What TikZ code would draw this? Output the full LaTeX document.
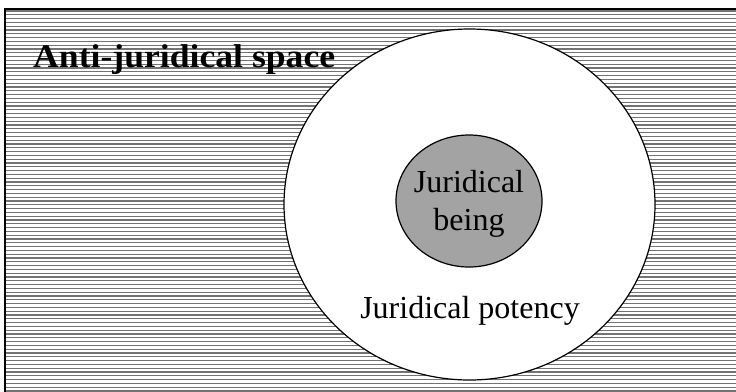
\documentclass[tikz,border=0pt]{standalone}
\usepackage{fontspec}
\setmainfont{Liberation Serif}
\usetikzlibrary{shapes.geometric}
\begin{document}
\begin{tikzpicture}[x=1bp,y=-1bp,
  hatch/.style={draw=black!55,line width=1.2bp},
  frame/.style={draw=black,line width=1.8bp},
  zone/.style={ellipse,draw=black,line width=1.2bp,inner sep=0pt},
  lbl/.style={inner sep=0pt,font=\fontsize{32bp}{38bp}\selectfont,align=center}]
\useasboundingbox (0,0) rectangle (736,391);
% outer space with horizontal hatching
\fill[white] (5,9) rectangle (745,400);
\begin{scope}
  \clip (5,9) rectangle (745,400);
  \foreach \k in {0,...,102} {
    \draw[hatch] (5,{11+3.8*\k}) -- (745,{11+3.8*\k});
  }
\end{scope}
\draw[frame] (745,9) -- (5,9) -- (5,400);
% zones
\node[zone,fill=white,minimum width=371bp,minimum height=351bp] (potency) at (469.5,204.5) {};
\node[zone,fill=black!36,minimum width=146bp,minimum height=132bp] (being) at (469,201) {};
% labels
\node[lbl,anchor=base west,xscale=1.08,transform shape,font=\fontsize{33bp}{38bp}\selectfont\bfseries] (space) at (33,67) {Anti-juridical space};
\node[lbl] (beingtxt) at (469,204) {Juridical\\being};
\node[lbl,anchor=base] (potencytxt) at (470,318) {Juridical potency};
\end{tikzpicture}
\end{document}
